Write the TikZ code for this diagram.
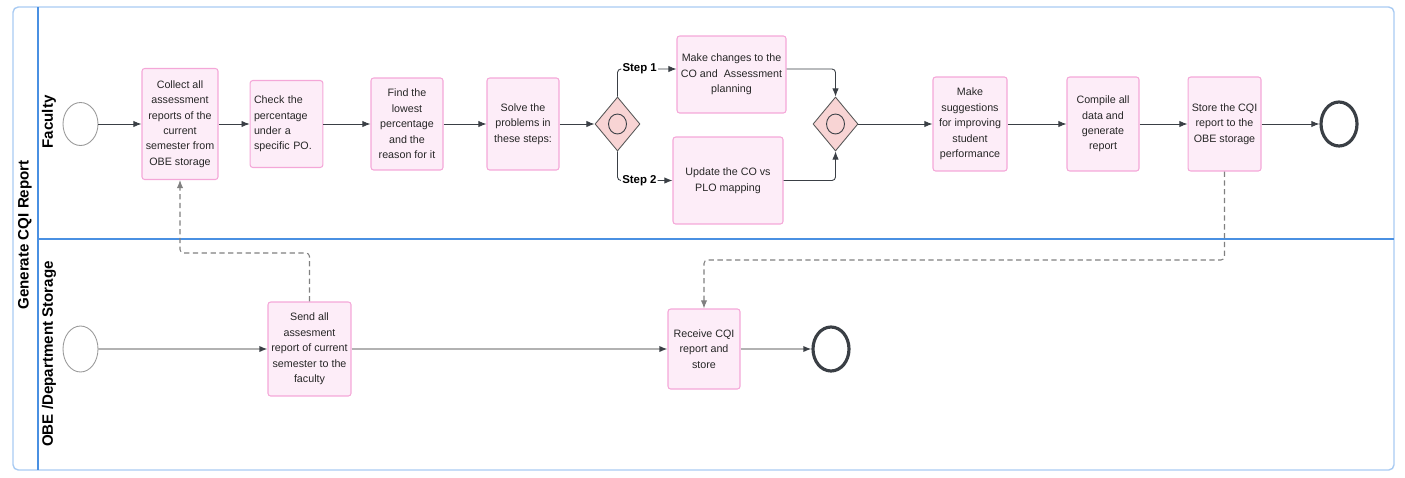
\documentclass[tikz,border=0pt]{standalone}
\usepackage{fontspec}
\setmainfont{Liberation Sans}
\usetikzlibrary{shapes.geometric}
\usetikzlibrary{arrows.meta}
\definecolor{poolblue}{HTML}{A9CBF2}
\definecolor{laneblue}{HTML}{4A90E2}
\definecolor{taskfill}{HTML}{FDEDF8}
\definecolor{taskline}{HTML}{F4A7D8}
\definecolor{gatefill}{HTML}{F8D4D4}
\definecolor{flowgray}{HTML}{3A3F45}
\tikzset{>={Latex[length=4.6pt,width=3.6pt]}}
\tikzset{
	% activities
	task/.style={draw=taskline, fill=taskfill, text=black!85, line width=0.6pt, rounded corners=1.5pt, align=center, inner sep=1pt, font=\fontsize{6.1}{8.8}\selectfont},
	% gateways and events
	gate/.style={diamond, draw=gray!70!black, fill=gatefill, line width=0.5pt, inner sep=0pt, minimum width=0.9cm, minimum height=1.08cm},
	startev/.style={ellipse, draw=gray!80, line width=0.5pt, minimum width=0.7cm, minimum height=0.86cm, inner sep=0pt},
	endev/.style={ellipse, draw=flowgray, line width=1.8pt, minimum width=0.72cm, minimum height=0.88cm, inner sep=0pt},
	% connectors
	flow/.style={->, draw=flowgray, line width=0.5pt, rounded corners=2pt},
	lowflow/.style={-{Latex[length=4.6pt,width=3.6pt,color=flowgray]}, draw=gray!60, line width=0.8pt},
	msgflow/.style={->, draw=gray, line width=0.6pt, dash pattern=on 3pt off 2pt, rounded corners=2pt},
	% labels
	lanelabel/.style={rotate=90, font=\bfseries\fontsize{8.6}{10}\selectfont},
	steplabel/.style={font=\bfseries\fontsize{6.5}{8}\selectfont, fill=white, inner sep=0.6pt},
}
\begin{document}
\begin{tikzpicture}[x=0.02cm, y=-0.02cm]
	\useasboundingbox (0,0) rectangle (1405,477);
	
	% pool and lanes
	\draw[poolblue, line width=0.8pt, rounded corners=3pt] (13,7) rectangle (1394,470);
	\draw[laneblue, line width=0.6pt] (38,7) -- (38,470);
	\draw[laneblue, line width=0.6pt] (38,239) -- (1394,239);
	\node[lanelabel] (pool) at (25,235) {Generate CQI Report};
	\node[lanelabel] (faculty) at (49,122) {Faculty};
	\node[lanelabel] (obe) at (49,354) {OBE /Department Storage};
	
	% faculty lane
	\node[startev] (fstart) at (80.5,124) {};
	\node[task, minimum width=1.52cm, minimum height=2.22cm] (collect) at (180,124) {Collect all\\assessment\\reports of the\\current\\semester from\\OBE storage};
	\node[task, align=left, text width=1.3cm, inner xsep=2.2pt, minimum height=1.74cm] (check) at (286.5,124) {Check the\\percentage\\under a\\specific PO.};
	\node[task, minimum width=1.44cm, minimum height=1.84cm] (lowest) at (407,124) {Find the\\lowest\\percentage\\and the\\reason for it};
	\node[task, minimum width=1.44cm, minimum height=1.84cm] (solve) at (523,124) {Solve the\\problems in\\these steps:};
	\node[gate] (split) at (617.5,124) {};
	\draw[flowgray, line width=0.5pt] (split) ellipse [x radius=0.18cm, y radius=0.2cm];
	\node[task, minimum width=2.18cm, minimum height=1.54cm] (changes) at (731.5,74.5) {Make changes to the\\CO and\ \ Assessment\\planning};
	\node[task, minimum width=2.2cm, minimum height=1.74cm] (update) at (728,180.5) {Update the CO vs\\PLO mapping};
	\node[gate] (merge) at (835.5,124) {};
	\draw[flowgray, line width=0.5pt] (merge) ellipse [x radius=0.18cm, y radius=0.2cm];
	\node[task, minimum width=1.48cm, minimum height=1.88cm] (suggest) at (970,124) {Make\\suggestions\\for improving\\student\\performance};
	\node[task, minimum width=1.44cm, minimum height=1.88cm] (compile) at (1103,124) {Compile all\\data and\\generate\\report};
	\node[task, minimum width=1.46cm, minimum height=1.88cm] (store) at (1224.5,124) {Store the CQI\\report to the\\OBE storage};
	\node[endev] (fend) at (1339,124) {};
	
	\draw[flow] (fstart) -- (collect);
	\draw[flow] (collect) -- (check);
	\draw[flow] (check) -- (lowest);
	\draw[flow] (lowest) -- (solve);
	\draw[flow] (solve) -- (split);
	\draw[flow] (split.north) |- node[steplabel, pos=0.53, anchor=west] {Step 1} ([yshift=0.11cm]changes.west);
	\draw[flow] (split.south) |- node[steplabel, pos=0.53, anchor=west] {Step 2} (update.west);
	\draw[flow] ([yshift=0.11cm]changes.east) -| (merge.north);
	\draw[flow] (update.east) -| (merge.south);
	\draw[flow] (merge) -- (suggest);
	\draw[flow] (suggest) -- (compile);
	\draw[flow] (compile) -- (store);
	\draw[flow] (store) -- (fend);
	
	% storage lane
	\node[startev, minimum height=0.92cm] (ostart) at (80.5,349) {};
	\node[task, minimum width=1.66cm, minimum height=1.88cm] (send) at (309.5,349) {Send all\\assesment\\report of current\\semester to the\\faculty};
	\node[task, minimum width=1.44cm, minimum height=1.6cm] (receive) at (704,349) {Receive CQI\\report and\\store};
	\node[endev] (oend) at (831,349) {};
	
	\draw[lowflow] (ostart) -- (send);
	\draw[lowflow] (send) -- (receive);
	\draw[lowflow] (receive) -- (oend);
	
	% between lanes
	\coordinate (uptrack) at (0,253);
	\coordinate (downtrack) at (0,260);
	\draw[msgflow] (send.north) -- (send.north |- uptrack) -| (collect.south);
	\draw[msgflow] (store.south) -- (store.south |- downtrack) -| (receive.north);
	
\end{tikzpicture}
\end{document}
